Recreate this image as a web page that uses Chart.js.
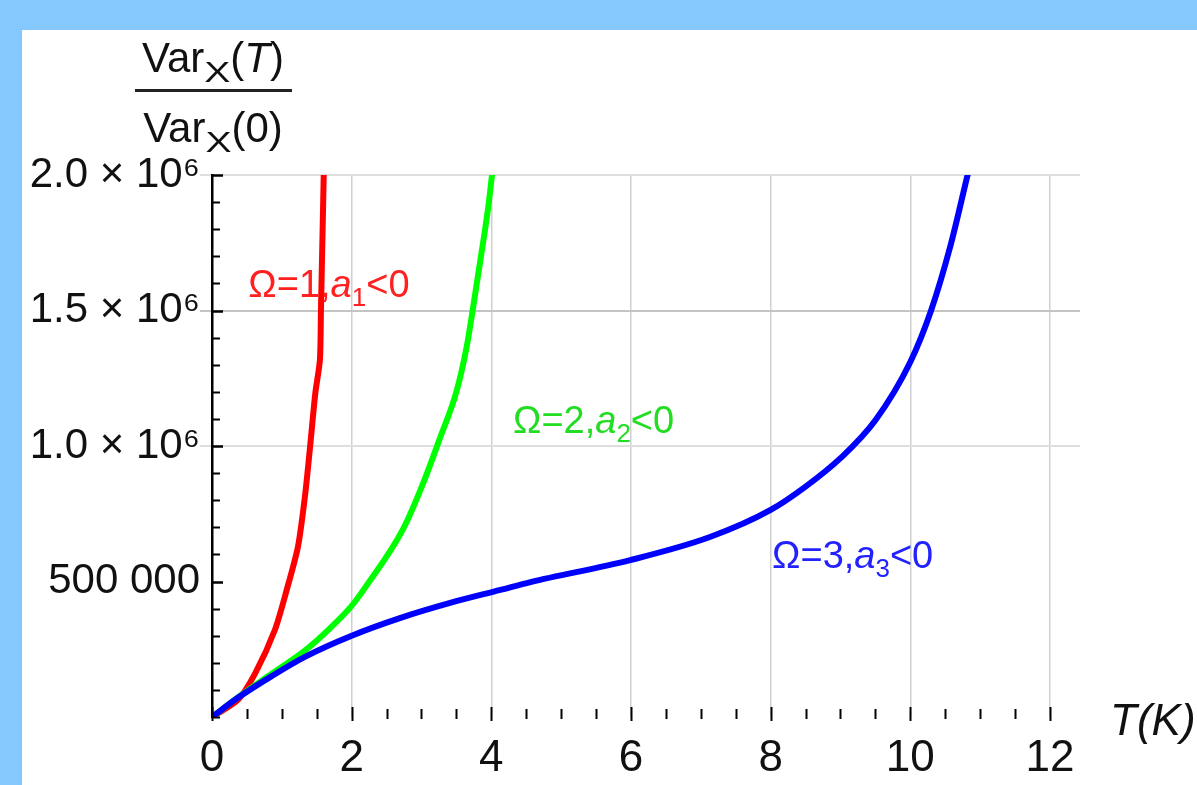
<!DOCTYPE html>
<html>
<head>
<meta charset="utf-8">
<title>Var_X(T) / Var_X(0)</title>
<script src="https://cdn.jsdelivr.net/npm/chart.js@4.4.1/dist/chart.umd.min.js"></script>
<style>
    html, body { margin: 0; padding: 0; }
    body { width: 1197px; height: 785px; background: #84c8fd; position: relative; overflow: hidden; }
    .panel { position: absolute; left: 22px; top: 30px; right: 0; bottom: 0; background: #fff; }
    .wrap { position: absolute; left: 0; top: 0; width: 1197px; height: 785px; }
</style>
</head>
<body>
<div class="panel"></div>
<div class="wrap"><canvas id="varianceChart"></canvas></div>
<script>
// 数据: 温度 T(K) 与 Var_X(T)/Var_X(0)
const tOmega1 = [0, 0.37, 0.62, 0.90, 1.07, 1.23, 1.33, 1.40, 1.48, 1.545, 1.56, 1.585, 1.60];
const varOmega1 = [0, 63000, 162000, 321000, 469000, 627000, 812000, 985000, 1196000, 1317000, 1500000, 1810000, 2000000];

const tOmega2 = [0, 0.38, 0.855, 1.33, 1.7, 2.0, 2.2, 2.74, 3.02, 3.27, 3.5, 3.65, 3.72, 3.84, 3.95, 4.01];
const varOmega2 = [0, 74000, 160000, 245000, 330000, 410000, 480000, 695000, 860000, 1033000, 1200000, 1370000, 1480000, 1680000, 1870000, 2000000];

const tOmega3 = [0, 0.38, 0.855, 1.33, 2.0, 2.69, 3.41, 4.13, 4.56, 5.99, 7.13, 8.0, 8.5, 9.0, 9.5, 10.0, 10.3, 10.57, 10.82];
const varOmega3 = [0, 72700, 151000, 222000, 300000, 365000, 421000, 469000, 498000, 579000, 664000, 764000, 850000, 955000, 1095000, 1310000, 1502000, 1734000, 2000000];

// 刻度标签
const xMajorValues = [0, 2, 4, 6, 8, 10, 12];
const xTickLabels = ['0', '2', '4', '6', '8', '10', '12'];
const yMajorValues = [500000, 1000000, 1500000, 2000000];
const yTickLabels = ['500 000', '1.0 × 10⁶', '1.5 × 10⁶', '2.0 × 10⁶'];

const FONT = '"Liberation Sans", Arial, sans-serif';

function toPoints(xs, ys) {
    return xs.map((x, i) => ({ x: x, y: ys[i] }));
}

// 带上下标的文字
function drawRuns(ctx, runs, x, y, size, color, align) {
    const parts = runs.map(r => {
        const s = r.sub ? Math.round(size * 0.68) : size;
        const font = (r.it ? 'italic ' : '') + s + 'px ' + FONT;
        ctx.font = font;
        return { t: r.t, font: font, w: ctx.measureText(r.t).width * (r.sx || 1), sx: r.sx || 1, dy: r.sub ? size * 0.24 : 0 };
    });
    const total = parts.reduce((a, p) => a + p.w, 0);
    let cx = align === 'center' ? x - total / 2 : x;
    ctx.fillStyle = color;
    ctx.textAlign = 'left';
    ctx.textBaseline = 'alphabetic';
    parts.forEach(p => {
        ctx.font = p.font;
        ctx.save();
        ctx.translate(cx, y + p.dy);
        ctx.scale(p.sx, 1);
        ctx.fillText(p.t, 0, 0);
        ctx.restore();
        cx += p.w;
    });
}

// 曲线标注
const curveLabels = [
    { x: 0.52, y: 1550000, color: '#ff2020', runs: [{ t: 'Ω=1,' }, { t: 'a', it: true }, { t: '1', sub: true }, { t: '<0' }] },
    { x: 4.31, y: 1048000, color: '#22dd22', runs: [{ t: 'Ω=2,' }, { t: 'a', it: true }, { t: '2', sub: true }, { t: '<0' }] },
    { x: 8.02, y: 550000, color: '#2222ff', runs: [{ t: 'Ω=3,' }, { t: 'a', it: true }, { t: '3', sub: true }, { t: '<0' }] }
];

const decorPlugin = {
    id: 'decor',
    afterDatasetsDraw(chart) {
        const ctx = chart.ctx;
        const area = chart.chartArea;
        const xs = chart.scales.x;
        const ys = chart.scales.y;
        ctx.save();

        // y 轴内侧刻度
        ctx.strokeStyle = '#000';
        ys.ticks.forEach(t => {
            const py = Math.round(ys.getPixelForValue(t.value)) + 0.5;
            const major = yMajorValues.indexOf(t.value) >= 0;
            ctx.lineWidth = major ? 2.5 : 2;
            ctx.beginPath();
            ctx.moveTo(area.left, py);
            ctx.lineTo(area.left + (major ? 11 : 8), py);
            ctx.stroke();
        });

        // x 轴刻度 (无轴线)
        xs.ticks.forEach(t => {
            if (t.value > 12) return;
            const px = Math.round(xs.getPixelForValue(t.value)) + 0.5;
            const major = xMajorValues.indexOf(t.value) >= 0;
            ctx.lineWidth = 2;
            ctx.beginPath();
            ctx.moveTo(px, area.bottom - (major ? 10 : 8));
            ctx.lineTo(px, area.bottom + (major ? 4 : 2));
            ctx.stroke();
        });

        // 曲线标注
        curveLabels.forEach(l => {
            drawRuns(ctx, l.runs, xs.getPixelForValue(l.x), ys.getPixelForValue(l.y), 38, l.color, 'left');
        });

        // y 轴标题: 分式
        const cx = area.left + 1;
        drawRuns(ctx, [{ t: 'Var' }, { t: 'X', sub: true, sx: 1.35 }, { t: '(' }, { t: 'T', it: true }, { t: ')' }], cx, area.top - 103, 42, '#111', 'center');
        ctx.fillStyle = '#222';
        ctx.fillRect(135, area.top - 86, 157, 3);
        drawRuns(ctx, [{ t: 'Var' }, { t: 'X', sub: true, sx: 1.35 }, { t: '(0)' }], cx, area.top - 33, 42, '#111', 'center');

        // x 轴标题
        drawRuns(ctx, [{ t: 'T(K)', it: true }], area.right + 30, area.bottom + 18, 44, '#111', 'left');

        ctx.restore();
    }
};

const data = {
    datasets: [
        {
            label: 'Ω=3',
            data: toPoints(tOmega3, varOmega3),
            borderColor: '#0000ff',
            borderWidth: 6,
            cubicInterpolationMode: 'monotone',
            order: 0
        },
        {
            label: 'Ω=2',
            data: toPoints(tOmega2, varOmega2),
            borderColor: '#00ff00',
            borderWidth: 6,
            cubicInterpolationMode: 'monotone',
            order: 1
        },
        {
            label: 'Ω=1',
            data: toPoints(tOmega1, varOmega1),
            borderColor: '#ff0000',
            borderWidth: 6,
            tension: 0.25,
            order: 2
        }
    ]
};

const options = {
    responsive: true,
    maintainAspectRatio: false,
    animation: false,
    showLine: true,
    elements: {
        point: { radius: 0, hoverRadius: 0 },
        line: { borderCapStyle: 'round', borderJoinStyle: 'round' }
    },
    layout: {
        padding: { top: 175, right: 117, bottom: 0, left: 0 }
    },
    plugins: {
        legend: { display: false },
        tooltip: { enabled: false }
    },
    scales: {
        x: {
            type: 'linear',
            min: 0,
            max: 12.43,
            afterFit: scale => { scale.height = 68; },
            border: { display: false },
            grid: {
                drawTicks: false,
                lineWidth: 1.5,
                color: c => (c.tick && c.tick.value > 0 && xMajorValues.indexOf(c.tick.value) >= 0) ? '#d0d0d0' : 'rgba(0,0,0,0)'
            },
            ticks: {
                stepSize: 0.5,
                includeBounds: false,
                autoSkip: false,
                maxRotation: 0,
                padding: 15,
                color: '#111',
                font: { family: FONT, size: 44 },
                callback: value => {
                    const i = xMajorValues.indexOf(value);
                    return i >= 0 ? xTickLabels[i] : '';
                }
            }
        },
        y: {
            type: 'linear',
            min: 0,
            max: 2000000,
            afterFit: scale => { scale.width = 212; },
            border: { display: true, color: '#000', width: 2.5 },
            grid: {
                drawTicks: true,
                tickLength: 12,
                lineWidth: 2,
                color: c => {
                    if (!c.tick) return 'rgba(0,0,0,0)';
                    if (c.tick.value === 1500000) return '#c4c4c4';
                    if (c.tick.value === 1000000 || c.tick.value === 2000000) return '#dedede';
                    return 'rgba(0,0,0,0)';
                },
                tickColor: c => {
                    if (!c.tick) return 'rgba(0,0,0,0)';
                    if (c.tick.value === 1500000) return '#c4c4c4';
                    if (c.tick.value === 1000000 || c.tick.value === 2000000) return '#dedede';
                    return 'rgba(0,0,0,0)';
                }
            },
            ticks: {
                stepSize: 100000,
                autoSkip: false,
                padding: 0,
                color: '#111',
                font: { family: FONT, size: 42 },
                callback: value => {
                    const i = yMajorValues.indexOf(value);
                    return i >= 0 ? yTickLabels[i] : '';
                }
            }
        }
    }
};

new Chart(document.getElementById('varianceChart').getContext('2d'), {
    type: 'scatter',
    data: data,
    options: options,
    plugins: [decorPlugin]
});
</script>
</body>
</html>
